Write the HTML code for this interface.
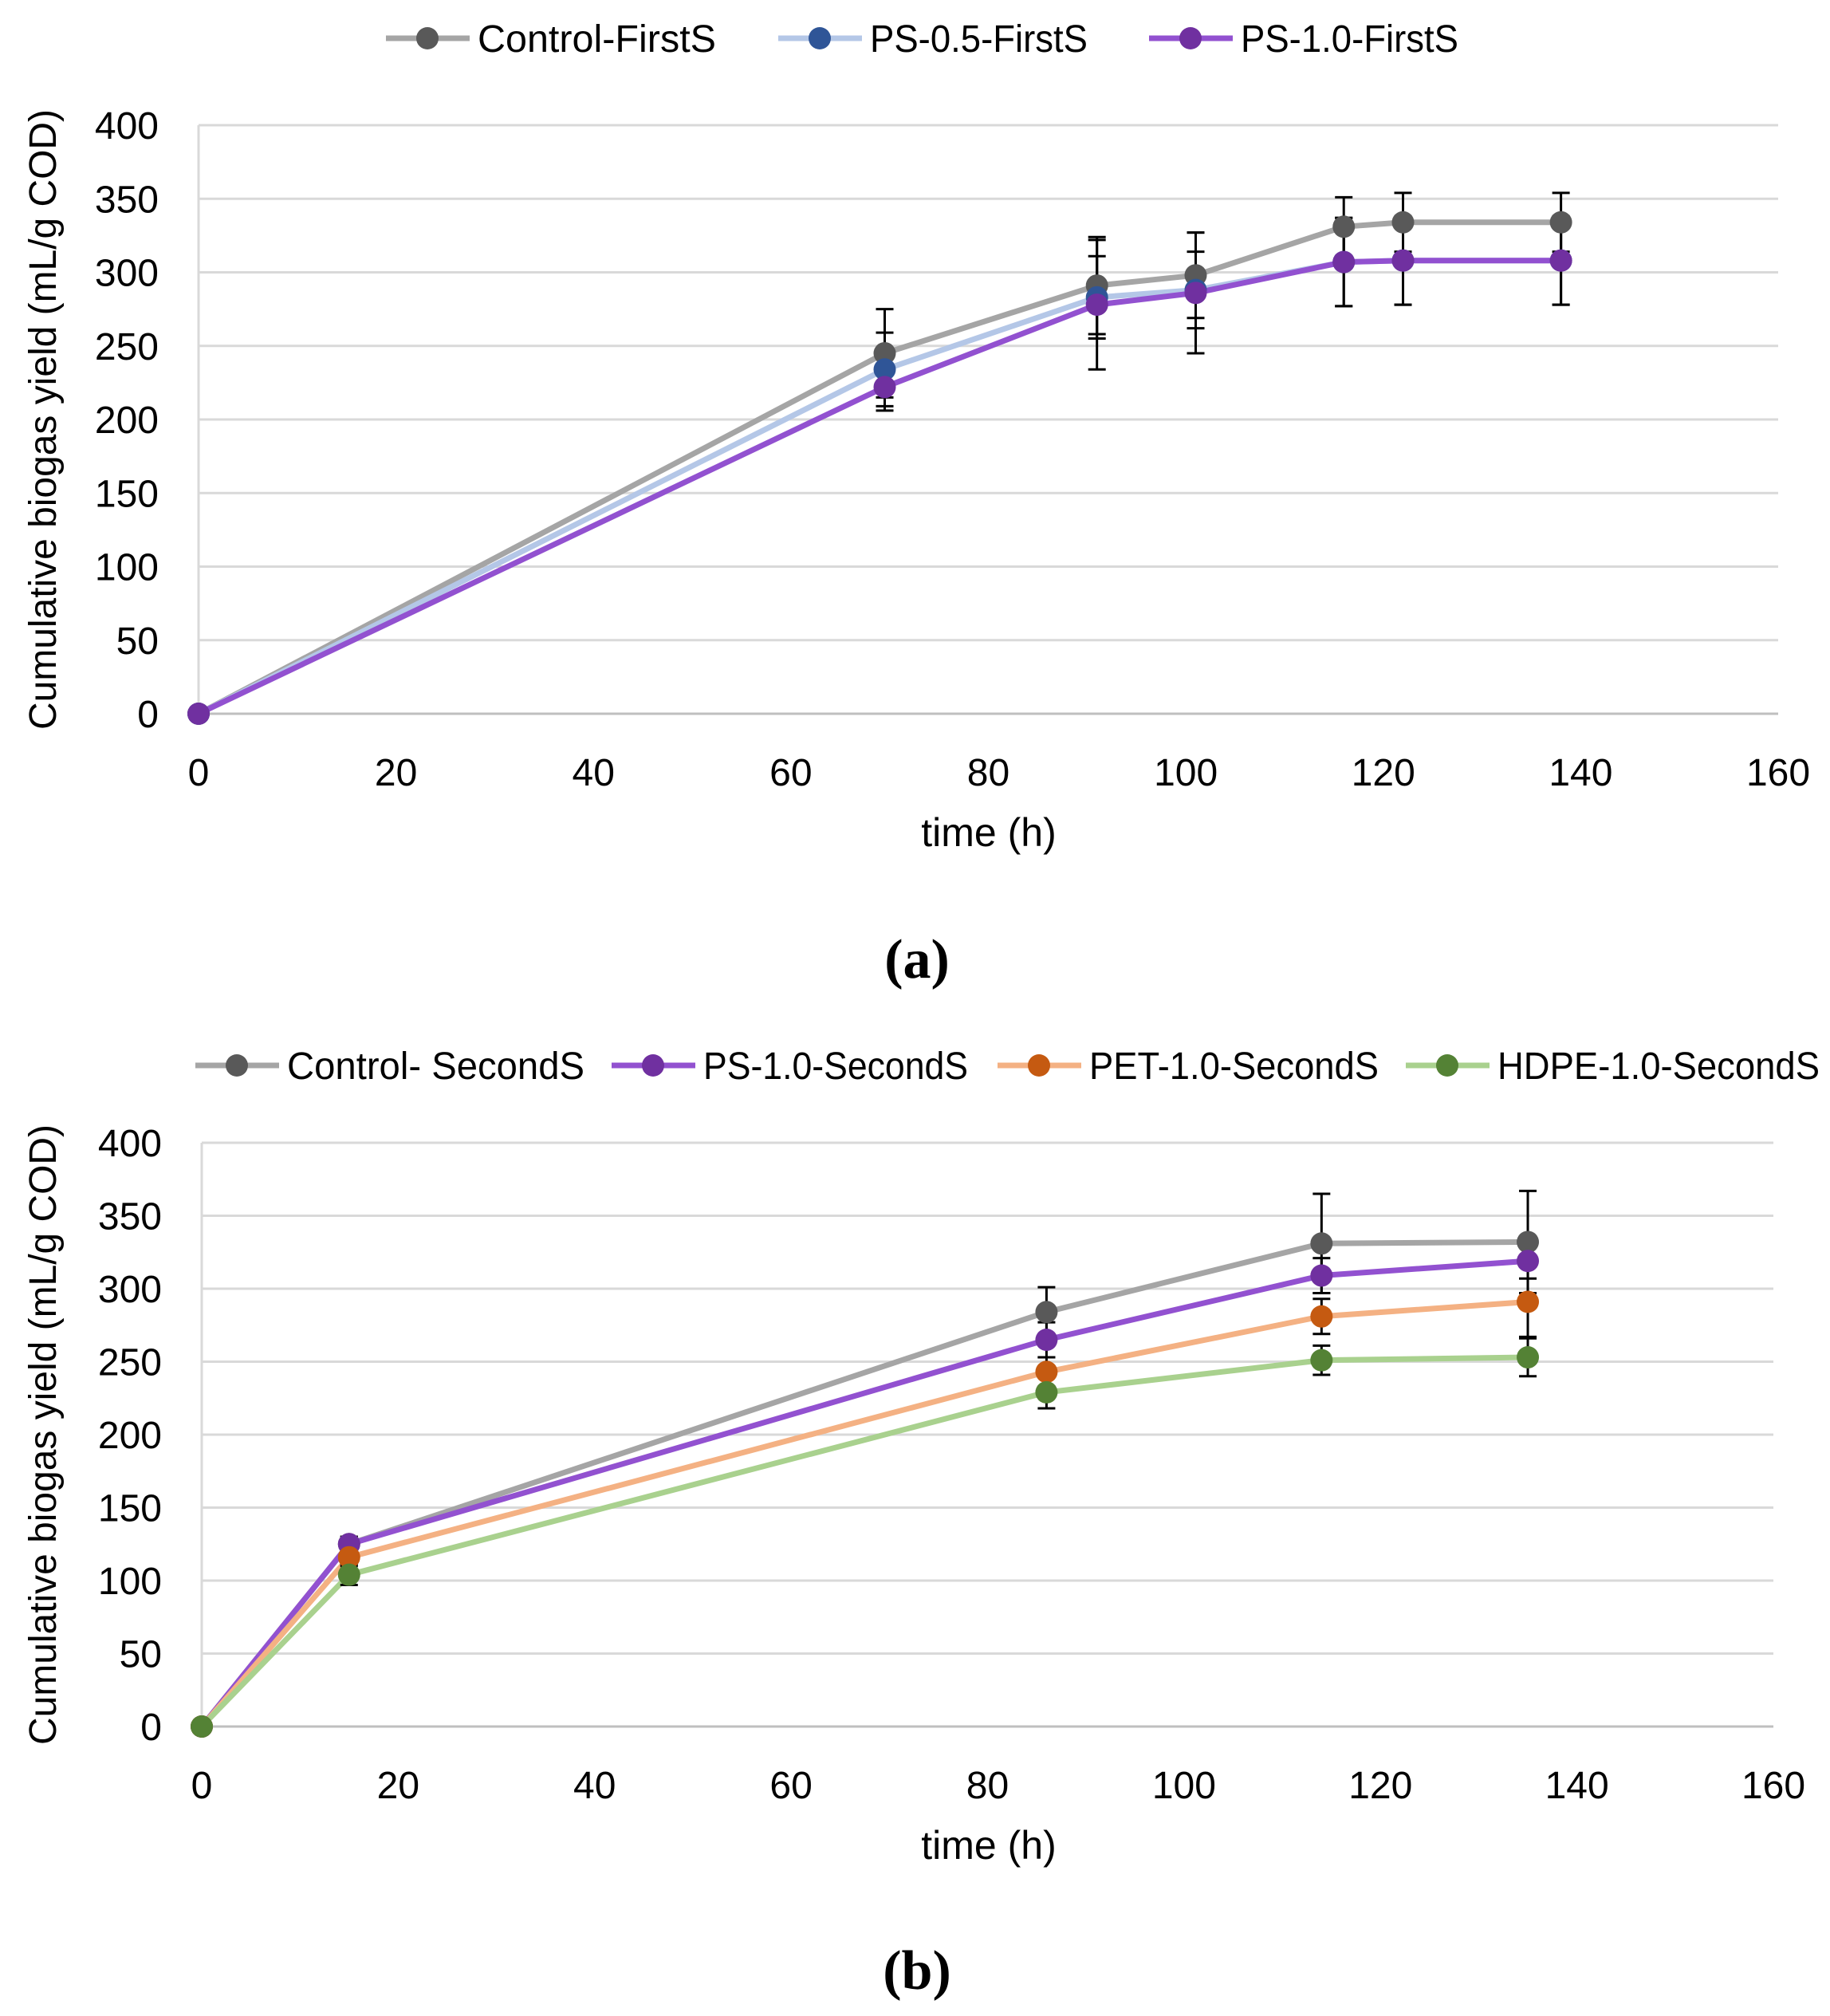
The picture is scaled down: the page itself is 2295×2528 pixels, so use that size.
<!DOCTYPE html>
<html><head><meta charset="utf-8"><style>
html,body{margin:0;padding:0;background:#fff;}
svg{display:block;font-family:"Liberation Sans",sans-serif;}
</style></head><body>
<svg id="svg" width="2295" height="2528" viewBox="0 0 2295 2528" xmlns="http://www.w3.org/2000/svg"></svg>
<script>
// ---- Chart (a) data ----
const xA = [0, 69.5, 91, 101, 116, 122, 138];
const ctrlA = [0, 245, 291, 298, 331, 334, 334];
const ctrlAErr = [0, 30, 33, 29, 20, 20, 20];
const ps05A = [0, 234, 283, 288, 307, 308, 308];
const ps05AErr = [0, 25, 28, 26, 30, 30, 30];
const ps10A = [0, 222, 278, 286, 307, 308, 308];
const ps10AErr = [0, 16, 44, 41, 30, 30, 30];
// ---- Chart (b) data ----
const xB = [0, 15, 86, 114, 135];
const ctrlB = [0, 125, 284, 331, 332];
const ctrlBErr = [0, 5, 17, 34, 35];
const psB = [0, 125, 265, 309, 319];
const psBErr = [0, 5, 12, 12, 12];
const petB = [0, 116, 243, 281, 291];
const petBErr = [0, 6, 10, 12, 24];
const hdpeB = [0, 104, 229, 251, 253];
const hdpeBErr = [0, 7, 11, 10, 13];
const yTicks = [0, 50, 100, 150, 200, 250, 300, 350, 400];
const xTicks = [0, 20, 40, 60, 80, 100, 120, 140, 160];

const NS = "http://www.w3.org/2000/svg";
const svg = document.getElementById('svg');
function mk(tag, attrs, parent, text){
  const e = document.createElementNS(NS, tag);
  for (const k in attrs) e.setAttribute(k, attrs[k]);
  if (text !== undefined) e.textContent = text;
  (parent || svg).appendChild(e);
  return e;
}

function chart(cfg){
  const g = mk('g', {});
  
  
  const X = v => cfg.left + (cfg.right - cfg.left) * v / 160;
  const Y = v => cfg.y0 + (cfg.y400 - cfg.y0) * v / 400;
  yTicks.forEach(t => {
    const l = mk('line', {x1: X(0), x2: cfg.right, y1: Y(t), y2: Y(t), stroke: t === 0 ? '#bfbfbf' : '#d9d9d9', 'stroke-width': 3}, g);
    
    
    const tx = mk('text', {x: X(0) - 50, y: Y(t) + 17, 'text-anchor': 'end', 'font-size': 48, fill: '#000'}, g, String(t));
    
    
  });
  const ax = mk('line', {x1: X(0), x2: X(0), y1: Y(0), y2: Y(400), stroke: '#d9d9d9', 'stroke-width': 3}, g);
  
  
  xTicks.forEach(t => {
    const tx = mk('text', {x: X(t), y: Y(0) + 90, 'text-anchor': 'middle', 'font-size': 48, fill: '#000'}, g, String(t));
    
    
  });
  const yt = mk('text', {x: 0, y: 0, transform: `translate(70,${(Y(0)+Y(400))/2}) rotate(-90)`, 'text-anchor': 'middle', 'font-size': 48, fill: '#000', textLength: 778, lengthAdjust: 'spacingAndGlyphs'}, g, 'Cumulative biogas yield (mL/g COD)');
  
  
  const xt = mk('text', {x: 1240, y: Y(0) + 166, 'text-anchor': 'middle', 'font-size': 50, fill: '#000'}, g, 'time (h)');
  
  
  const cap = mk('text', {x: 1150, y: cfg.capY, 'text-anchor': 'middle', 'font-size': 70, 'font-weight': 'bold', 'font-family': '"Liberation Serif",serif', fill: '#000'}, g, cfg.caption);
  
  

  cfg.series.forEach(s => {
    const sg = mk('g', {}, g);
    
    
    const pts = cfg.xs.map((x, i) => X(x) + ',' + Y(s.vals[i])).join(' ');
    const pl = mk('polyline', {points: pts, fill: 'none', stroke: s.line, 'stroke-width': 7, 'stroke-linejoin': 'round'}, sg);
    
    
  });
  cfg.series.forEach(s => {
    cfg.xs.forEach((x, i) => {
      const e = s.err[i];
      if (e > 0) {
        const eg = mk('g', {stroke: '#000', 'stroke-width': 3}, g);
        
        
        mk('line', {x1: X(x), x2: X(x), y1: Y(s.vals[i] - e), y2: Y(s.vals[i] + e)}, eg);
        mk('line', {x1: X(x) - 11, x2: X(x) + 11, y1: Y(s.vals[i] - e), y2: Y(s.vals[i] - e)}, eg);
        mk('line', {x1: X(x) - 11, x2: X(x) + 11, y1: Y(s.vals[i] + e), y2: Y(s.vals[i] + e)}, eg);
      }
    });
  });
  cfg.series.forEach(s => {
    cfg.xs.forEach((x, i) => {
      const c = mk('circle', {cx: X(x), cy: Y(s.vals[i]), r: 14, fill: s.marker}, g);
      
      
    });
  });
  cfg.series.forEach(s => {
    const lg = mk('g', {}, g);
    
    
    mk('line', {x1: s.lx, x2: s.lx + 105, y1: cfg.legY, y2: cfg.legY, stroke: s.line, 'stroke-width': 7}, lg);
    mk('circle', {cx: s.lx + 52, cy: cfg.legY, r: 14, fill: s.marker}, lg);
    mk('text', {x: s.lx + 115, y: cfg.legY + 17, 'font-size': 48, fill: '#000', textLength: s.tl, lengthAdjust: 'spacingAndGlyphs'}, lg, s.label);
  });
}

chart({name: 'chart-a', left: 249, right: 2230, y0: 895, y400: 157, xs: xA, legY: 48, capY: 1226, caption: '(a)',
  series: [
    {id: 'control-firsts', label: 'Control-FirstS', vals: ctrlA, err: ctrlAErr, line: '#a5a5a5', marker: '#595959', lx: 484, tl: 299},
    {id: 'ps-0-5-firsts', label: 'PS-0.5-FirstS', vals: ps05A, err: ps05AErr, line: '#b4c7e7', marker: '#2f5597', lx: 976, tl: 273},
    {id: 'ps-1-0-firsts', label: 'PS-1.0-FirstS', vals: ps10A, err: ps10AErr, line: '#9251d0', marker: '#7030a0', lx: 1441, tl: 273}
  ]});
chart({name: 'chart-b', left: 253, right: 2224, y0: 2165, y400: 1433, xs: xB, legY: 1336, capY: 2494, caption: '(b)',
  series: [
    {id: 'control-seconds', label: 'Control- SecondS', vals: ctrlB, err: ctrlBErr, line: '#a5a5a5', marker: '#595959', lx: 245, tl: 373},
    {id: 'ps-1-0-seconds', label: 'PS-1.0-SecondS', vals: psB, err: psBErr, line: '#9251d0', marker: '#7030a0', lx: 767, tl: 332},
    {id: 'pet-1-0-seconds', label: 'PET-1.0-SecondS', vals: petB, err: petBErr, line: '#f4b183', marker: '#c55a11', lx: 1251, tl: 363},
    {id: 'hdpe-1-0-seconds', label: 'HDPE-1.0-SecondS', vals: hdpeB, err: hdpeBErr, line: '#a9d18e', marker: '#548235', lx: 1763, tl: 404}
  ]});
</script>
</body></html>
